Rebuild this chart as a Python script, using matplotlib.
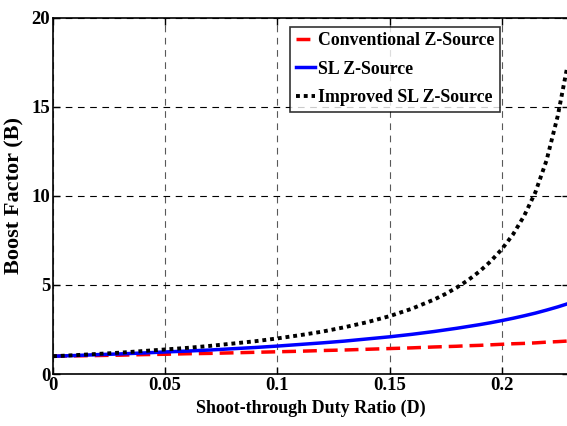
import matplotlib
matplotlib.use("Agg")
import matplotlib.pyplot as plt

# duty ratio samples and boost factors
duty = [0, 0.01, 0.02, 0.03, 0.04, 0.05, 0.06, 0.07, 0.08, 0.09, 0.10,
        0.11, 0.12, 0.13, 0.14, 0.15, 0.16, 0.17, 0.175, 0.18, 0.185, 0.19,
        0.195, 0.20, 0.205, 0.21, 0.215, 0.22, 0.225, 0.229]
conventional = [1.00, 1.02, 1.04, 1.06, 1.09, 1.11, 1.14, 1.16, 1.19, 1.22, 1.25,
                1.28, 1.32, 1.35, 1.39, 1.43, 1.47, 1.52, 1.54, 1.56, 1.59, 1.61,
                1.64, 1.67, 1.70, 1.72, 1.75, 1.79, 1.82, 1.85]
sl = [1.00, 1.04, 1.09, 1.13, 1.18, 1.24, 1.29, 1.35, 1.42, 1.49, 1.57,
      1.66, 1.75, 1.85, 1.97, 2.09, 2.23, 2.39, 2.48, 2.57, 2.67, 2.77,
      2.88, 3.00, 3.13, 3.27, 3.42, 3.59, 3.77, 3.93]
improved = [1.00, 1.06, 1.13, 1.20, 1.29, 1.38, 1.47, 1.58, 1.71, 1.84, 2.00,
            2.18, 2.38, 2.63, 2.91, 3.25, 3.67, 4.19, 4.50, 4.86, 5.27, 5.75,
            6.32, 7.00, 7.83, 8.88, 10.2, 12.0, 14.5, 17.1]

plt.rcParams['font.family'] = ['Liberation Serif', 'DejaVu Serif']
plt.rcParams['font.weight'] = 'bold'

fig = plt.figure(figsize=(5.67, 4.26), dpi=100)
# right spine sits just past the canvas edge, as in the original
ax = fig.add_axes([0.0935, 0.122, 0.91, 0.836])

ax.plot(duty, conventional, color='red', linestyle='--', linewidth=2.5,
        dashes=(4, 2), label='Conventional Z-Source')
ax.plot(duty, sl, color='blue', linestyle='-', linewidth=2.5, label='SL Z-Source')
ax.plot(duty, improved, color='black', linestyle=':', linewidth=2.8,
        dashes=(1, 1), label='Improved SL Z-Source')

ax.set_xlim(0, 0.23)
ax.set_ylim(0, 20)
ax.set_xticks([0, 0.05, 0.1, 0.15, 0.2])
ax.set_xticklabels(['0', '0.05', '0.1', '0.15', '0.2'])
ax.set_yticks([0, 5, 10, 15, 20])
ax.tick_params(direction='in', top=True, right=True, labelsize=13.5, length=5,
               width=1, pad=2)
for lab in ax.get_xticklabels() + ax.get_yticklabels():
    lab.set_fontweight('bold')

ax.xaxis.grid(True, color='0.35', linestyle=(0, (6, 5)), linewidth=0.8)
ax.yaxis.grid(True, color='black', linestyle=(0, (6, 5)), linewidth=0.8)

ax.set_xlabel('Shoot-through Duty Ratio (D)', fontsize=13, fontweight='bold', labelpad=4)
ax.set_ylabel('Boost Factor (B)', fontsize=16, fontweight='bold')
ax.yaxis.set_label_coords(-0.056, 0.5)

for sp in ax.spines.values():
    sp.set_linewidth(1.2)

leg = ax.legend(loc='upper left', bbox_to_anchor=(0.46, 0.975), fontsize=12.8,
                frameon=True, fancybox=False, edgecolor='black', handlelength=1.1,
                handletextpad=0.15, borderpad=0.3, labelspacing=0.65, borderaxespad=0)
leg.get_frame().set_linewidth(1.2)
for t in leg.get_texts():
    t.set_fontweight('bold')

fig.savefig('out.png', dpi=100)
